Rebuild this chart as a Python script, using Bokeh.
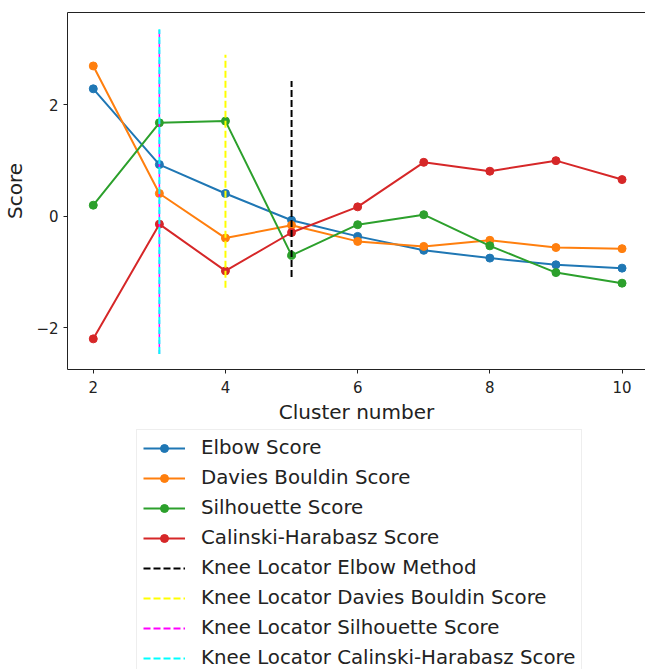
from bokeh.plotting import figure
from bokeh.models import Range1d, FixedTicker, LinearAxis, Legend, LegendItem
from bokeh.layouts import column
from bokeh.embed import file_html
from bokeh.resources import INLINE

clusters = [2, 3, 4, 5, 6, 7, 8, 9, 10]
elbow = [2.29, 0.93, 0.41, -0.07, -0.36, -0.61, -0.75, -0.87, -0.93]
davies = [2.70, 0.41, -0.39, -0.16, -0.45, -0.54, -0.43, -0.56, -0.58]
silhouette = [0.20, 1.68, 1.71, -0.70, -0.15, 0.03, -0.53, -1.01, -1.20]
calinski = [-2.20, -0.14, -0.98, -0.29, 0.17, 0.97, 0.81, 1.00, 0.66]

series_names = ["Elbow Score", "Davies Bouldin Score", "Silhouette Score", "Calinski-Harabasz Score"]
series_values = [elbow, davies, silhouette, calinski]
series_colors = ["#1f77b4", "#ff7f0e", "#2ca02c", "#d62728"]

knee_names = ["Knee Locator Elbow Method", "Knee Locator Davies Bouldin Score",
              "Knee Locator Silhouette Score", "Knee Locator Calinski-Harabasz Score"]
knee_x = [5, 4, 3, 3]
knee_ymin = [-1.09, -1.28, -2.47, -2.47]
knee_ymax = [2.43, 2.90, 3.36, 3.36]
knee_colors = ["black", "#ffff00", "#ff00ff", "#00ffff"]

x_ticks = [2, 4, 6, 8, 10]
y_ticks = [-2, 0, 2]

FONT = "DejaVu Sans"
DASH = "7 3"
knee_widths = [2, 2, 1.5, 2]
knee_dash_offsets = [0, 0, 3, 0]

# ---------------- main chart ----------------
p = figure(width=645, height=428, output_backend="svg", toolbar_location=None,
           x_range=Range1d(1.61, 10.355), y_range=Range1d(-2.75, 3.66),
           min_border_left=60, min_border_top=12, min_border_right=0, min_border_bottom=59)
p.outline_line_color = None
p.grid.visible = False
p.background_fill_color = "white"
p.border_fill_color = "white"

xax = p.below[0]
yax = p.left[0]

for ax in (xax, yax):
    ax.axis_line_color = "#222222"
    ax.axis_line_width = 1
    ax.major_tick_line_color = "#222222"
    ax.major_tick_out = 4
    ax.major_tick_in = 0
    ax.minor_tick_line_color = None
    ax.major_label_text_font = FONT
    ax.major_label_text_font_size = "15px"
    ax.major_label_text_color = "#222222"
    ax.axis_label_text_font = FONT
    ax.axis_label_text_font_size = "20px"
    ax.axis_label_text_font_style = "normal"
    ax.axis_label_text_color = "#222222"

xax.ticker = FixedTicker(ticks=x_ticks)
yax.ticker = FixedTicker(ticks=y_ticks)
xax.axis_label = "Cluster number"
yax.axis_label = "Score"
xax.major_label_standoff = 7
xax.axis_label_standoff = 4
yax.major_label_standoff = 5
yax.axis_label_standoff = 6

top = LinearAxis(ticker=FixedTicker(ticks=[]), major_label_text_font_size="0px",
                 major_tick_line_color=None, minor_tick_line_color=None,
                 major_tick_out=0, major_label_standoff=0,
                 axis_line_color="#222222", axis_line_width=1)
p.add_layout(top, "above")

for vals, col in zip(series_values, series_colors):
    p.line(clusters, vals, line_color=col, line_width=2)
    p.scatter(clusters, vals, marker="circle", size=8, fill_color=col, line_color=col)

for x, y0, y1, col, w, o in zip(knee_x, knee_ymin, knee_ymax, knee_colors, knee_widths, knee_dash_offsets):
    p.line([x, x], [y0, y1], line_color=col, line_width=w, line_dash=DASH, line_dash_offset=o)

# ---------------- legend panel ----------------
q = figure(width=645, height=241, output_backend="svg", toolbar_location=None,
           x_range=Range1d(0, 1), y_range=Range1d(0, 1),
           min_border=0, x_axis_type=None, y_axis_type=None)
q.outline_line_color = None
q.grid.visible = False
q.background_fill_color = "white"
q.border_fill_color = "white"

items = []
off = [-10, -9]
for name, col in zip(series_names, series_colors):
    l = q.line(off, off, line_color=col, line_width=2)
    s = q.scatter(off, off, marker="circle", size=8, fill_color=col, line_color=col)
    items.append(LegendItem(label=name, renderers=[l, s]))
for name, col in zip(knee_names, knee_colors):
    r = q.line(off, off, line_color=col, line_width=2, line_dash=DASH)
    items.append(LegendItem(label=name, renderers=[r]))

legend = Legend(items=items, location=(69, -7), orientation="vertical",
                label_text_font=FONT, label_text_font_size="19.8px", label_text_color="#222222",
                glyph_width=42, glyph_height=20, label_height=22, label_standoff=16,
                spacing=7, padding=6, margin=0,
                border_line_color="#dddddd", border_line_width=1,
                background_fill_color="white", background_fill_alpha=1.0)
q.add_layout(legend, "center")

layout = column(p, q, spacing=0)
open("out.html", "w").write(file_html(layout, INLINE))
